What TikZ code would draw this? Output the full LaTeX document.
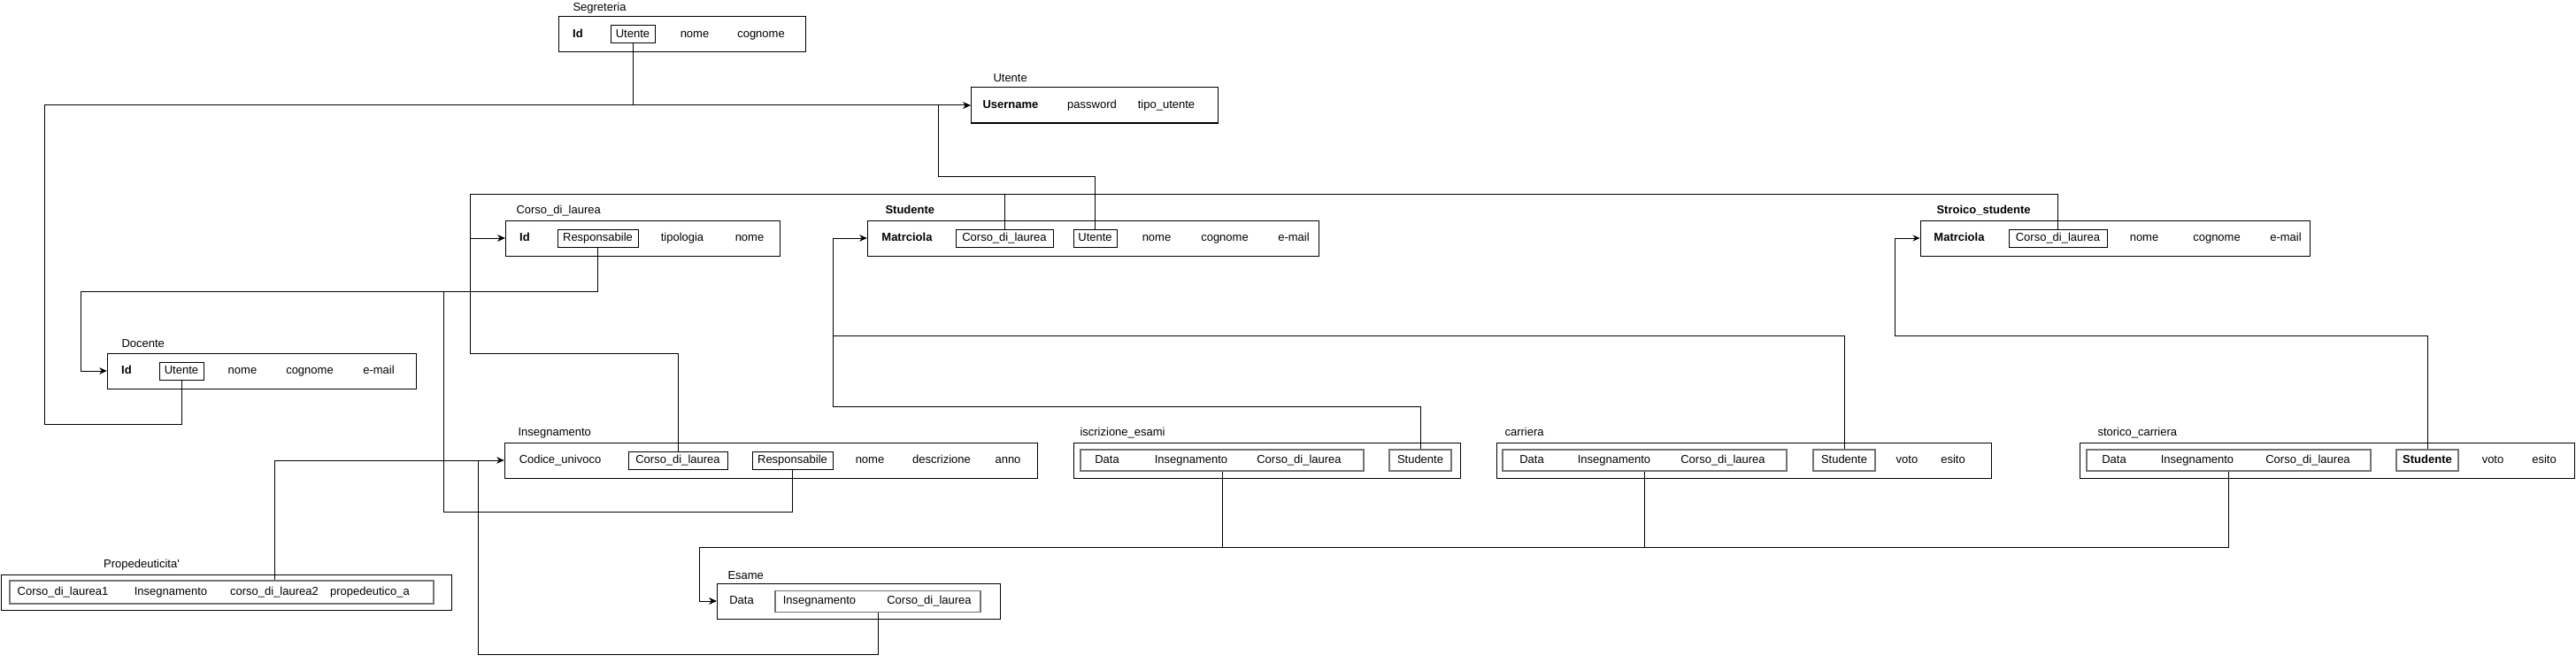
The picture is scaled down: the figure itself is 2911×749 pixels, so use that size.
\documentclass[tikz,border=0pt]{standalone}
\usepackage{fontspec}
\setmainfont{Liberation Sans}
\usetikzlibrary{calc,arrows.meta}
\newcommand{\apos}{\XeTeXglyph\XeTeXcharglyph"27\relax}

\begin{document}
\begin{tikzpicture}[%
        x=1pt, y=-1pt,%
        font=\fontsize{13}{15}\selectfont,%
        line width=1pt%
    ]
        \tikzset{%
            text box/.style={text height=9.5pt, text depth=2.5pt},%
            table/.style={draw, minimum height=40pt, inner sep=0pt},%
            key/.style={draw, text box, minimum height=20pt, inner sep=0pt},%
            group/.style={draw=black!55, text box, line width=1.6pt, minimum height=24pt, inner sep=0pt},%
            title/.style={anchor=west, text box, inner sep=0pt},%
            field/.style={text box, inner sep=0pt},%
            ref/.style={-{Stealth[length=8pt,width=7pt]}}%
        }%
        \useasboundingbox (0,0) rectangle (2911,749);%

        %
        % Tabelle
        %
        % Segreteria
        \node[table, minimum width=279pt] (segreteria) at (770.5,39) {};%
        \node[title] (segreteria t) at (647,9) {Segreteria};%
        \node[key, minimum width=50pt] (segreteria utente) at (715,39) {Utente};%
        \foreach \x/\t [count=\i] in {653/\textbf{Id},785/nome,860/cognome} {%
            \node[field] (segreteria f\i) at (\x,39) {\t};%
        }%

        % Utente
        \node[table, minimum width=279pt] (utente) at (1236.5,119) {};%
        \node[title] (utente t) at (1122,89) {Utente};%
        \foreach \x/\t [count=\i] in {1142/\textbf{Username},1234/password,1318/tipo\_utente} {%
            \node[field] (utente f\i) at (\x,119) {\t};%
        }%

        % Corso_di_laurea
        \node[table, minimum width=310pt] (corso) at (726,269) {};%
        \node[title] (corso t) at (583,238) {Corso\_di\_laurea};%
        \node[key, minimum width=91pt] (corso resp) at (675.5,269) {Responsabile};%
        \foreach \x/\t [count=\i] in {593/\textbf{Id},771/tipologia,847/nome} {%
            \node[field] (corso f\i) at (\x,269) {\t};%
        }%

        % Studente
        \node[table, minimum width=510pt] (studente) at (1235,269) {};%
        \node[title] (studente t) at (1000,238) {\textbf{Studente}};%
        \node[key, minimum width=110pt] (studente corso) at (1135,269) {Corso\_di\_laurea};%
        \node[key, minimum width=49pt] (studente utente) at (1237.5,269) {Utente};%
        \foreach \x/\t [count=\i] in {1025/\textbf{Matrciola},1307/nome,1384/cognome,1462/e-mail} {%
            \node[field] (studente f\i) at (\x,269) {\t};%
        }%

        % Stroico_studente
        \node[table, minimum width=440pt] (stroico) at (2390,269) {};%
        \node[title] (stroico t) at (2188,238) {\textbf{Stroico\_studente}};%
        \node[key, minimum width=111pt] (stroico corso) at (2325.5,269) {Corso\_di\_laurea};%
        \foreach \x/\t [count=\i] in {2214/\textbf{Matrciola},2423/nome,2505/cognome,2583/e-mail} {%
            \node[field] (stroico f\i) at (\x,269) {\t};%
        }%

        % Docente
        \node[table, minimum width=349pt] (docente) at (295.5,419) {};%
        \node[title] (docente t) at (137,389) {Docente};%
        \node[key, minimum width=50pt] (docente utente) at (205,419) {Utente};%
        \foreach \x/\t [count=\i] in {143/\textbf{Id},274/nome,350/cognome,428/e-mail} {%
            \node[field] (docente f\i) at (\x,419) {\t};%
        }%

        % Insegnamento
        \node[table, minimum width=602pt] (insegnamento) at (871,520) {};%
        \node[title] (insegnamento t) at (585,489) {Insegnamento};%
        \node[key, minimum width=112pt] (ins corso) at (766,520) {Corso\_di\_laurea};%
        \node[key, minimum width=91pt] (ins resp) at (895.5,520) {Responsabile};%
        \foreach \x/\t [count=\i] in {633/Codice\_univoco,983/nome,1064/descrizione,1139/anno} {%
            \node[field] (ins f\i) at (\x,520) {\t};%
        }%

        % iscrizione_esami
        \node[table, minimum width=437pt] (iscrizione) at (1431.5,520) {};%
        \node[title] (iscrizione t) at (1220,489) {iscrizione\_esami};%
        \node[group, minimum width=320pt] (iscr esame) at (1381,520) {};%
        \node[group, minimum width=70pt] (iscr studente) at (1605,520) {Studente};%
        \foreach \x/\t [count=\i] in {1251/Data,1346/Insegnamento,1468/Corso\_di\_laurea} {%
            \node[field] (iscr f\i) at (\x,520) {\t};%
        }%

        % carriera
        \node[table, minimum width=559pt] (carriera) at (1970.5,520) {};%
        \node[title] (carriera t) at (1700,489) {carriera};%
        \node[group, minimum width=321pt] (carr esame) at (1858.5,520) {};%
        \node[group, minimum width=70pt] (carr studente) at (2084,520) {Studente};%
        \foreach \x/\t [count=\i] in {1731/Data,1824/Insegnamento,1947/Corso\_di\_laurea,2155/voto,2207/esito} {%
            \node[field] (carr f\i) at (\x,520) {\t};%
        }%

        % storico_carriera
        \node[table, minimum width=559pt] (storico) at (2629.5,520) {};%
        \node[title] (storico t) at (2370,489) {storico\_carriera};%
        \node[group, minimum width=321pt] (stor esame) at (2518.5,520) {};%
        \node[group, minimum width=70pt] (stor studente) at (2743,520) {\textbf{Studente}};%
        \foreach \x/\t [count=\i] in {2389/Data,2483/Insegnamento,2608/Corso\_di\_laurea,2817/voto,2875/esito} {%
            \node[field] (stor f\i) at (\x,520) {\t};%
        }%

        % Esame
        \node[table, minimum width=320pt] (esame) at (970,679) {};%
        \node[title] (esame t) at (822,651) {Esame};%
        \node[group, minimum width=232pt] (esame ref) at (992,679.5) {};%
        \foreach \x/\t [count=\i] in {838/Data,926/Insegnamento,1050/Corso\_di\_laurea} {%
            \node[field] (esame f\i) at (\x,679) {\t};%
        }%

        % Propedeuticita'
        \node[table, minimum width=509pt] (prop) at (255.5,669.5) {};%
        \node[field] (prop t) at (160,638) {Propedeuticita\apos};%
        \node[group, minimum width=479pt, minimum height=26pt] (prop ref) at (250.5,669) {};%
        \foreach \x/\t [count=\i] in {71/Corso\_di\_laurea1,193/Insegnamento,310/corso\_di\_laurea2,418/propedeutico\_a} {%
            \node[field] (prop f\i) at (\x,669) {\t};%
        }%

        %
        % Riferimenti
        %
        \coordinate (left bend) at (50,479);%
        \coordinate (utente bend) at (1060,199);%
        \coordinate (corso bend) at (531,219);%
        \coordinate (corso low) at (531,399);%
        \coordinate (docente bend) at (91,329);%
        \coordinate (resp bend) at (501,578);%
        \coordinate (esame low) at (540,739);%
        \coordinate (studente bend) at (941,379);%
        \coordinate (studente low) at (941,459);%
        \coordinate (stroico bend) at (2141,379);%
        \coordinate (esame bend) at (790,618);%

        % verso Utente
        \draw[ref] (segreteria utente.south) |- (utente.west);%
        \draw[ref] (docente utente.south) |- (left bend) |- (utente.west);%
        \draw[ref] (studente utente.north) |- (utente bend) |- (utente.west);%

        % verso Corso_di_laurea
        \draw[ref] (studente corso.north) |- (corso bend) |- (corso.west);%
        \draw[ref] (stroico corso.north) |- (corso bend) |- (corso.west);%
        \draw[ref] (ins corso.north) |- (corso low) |- (corso.west);%

        % verso Docente
        \draw[ref] (corso resp.south) |- (docente bend) |- (docente.west);%
        \draw[ref] (ins resp.south) |- (resp bend) |- (docente bend) |- (docente.west);%

        % verso Insegnamento
        \draw[ref] (prop f3 |- prop ref.north) |- (insegnamento.west);%
        \draw[ref] (esame ref.south) |- (esame low) |- (insegnamento.west);%

        % verso Studente
        \draw[ref] (iscr studente.north) |- (studente low) |- (studente.west);%
        \draw[ref] (carr studente.north) |- (studente bend) |- (studente.west);%
        \draw[ref] (stor studente.north) |- (stroico bend) |- (stroico.west);%

        % verso Esame
        \draw[ref] (iscr esame.south) |- (esame bend) |- (esame.west);%
        \draw[ref] (carr esame.south) |- (esame bend) |- (esame.west);%
        \draw[ref] (stor esame.south) |- (esame bend) |- (esame.west);%
    \end{tikzpicture}
\end{document}
